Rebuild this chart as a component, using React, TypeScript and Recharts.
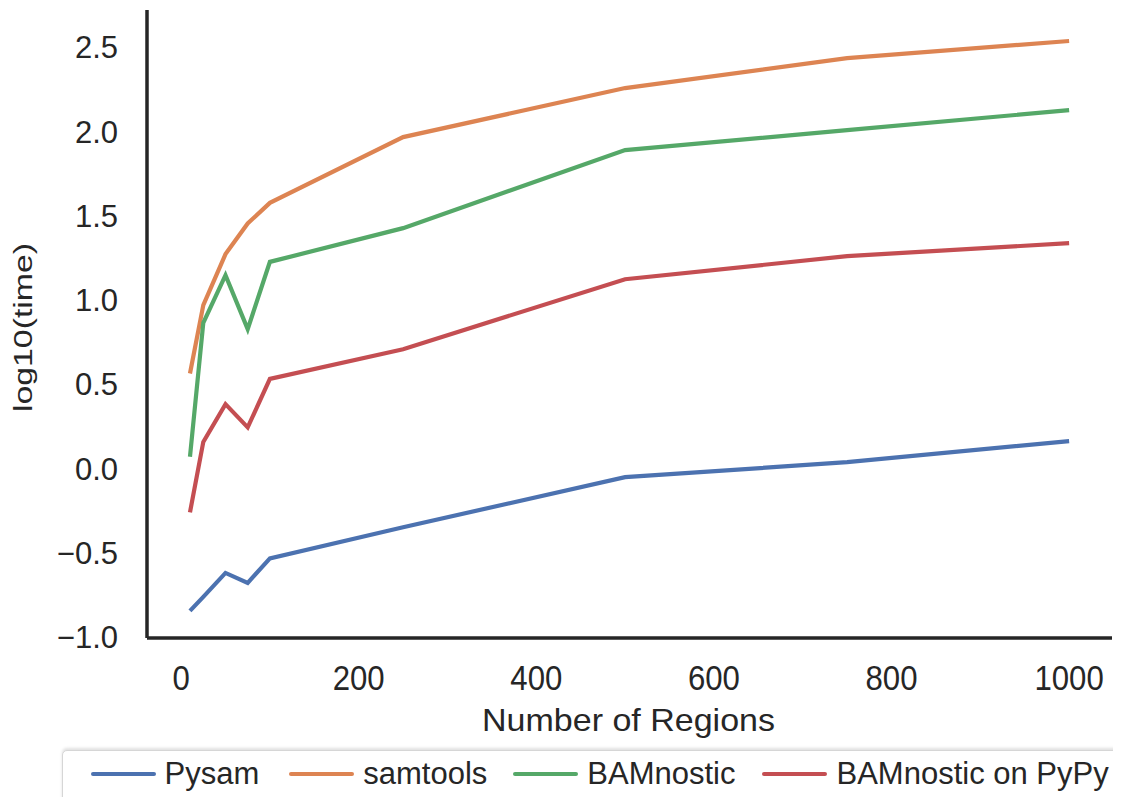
import React from "react";
import { LineChart, Line, XAxis, YAxis } from "recharts";

const regions = [10, 25, 50, 75, 100, 250, 500, 750, 1000];
const pysam = [-0.844, -0.761, -0.619, -0.678, -0.533, -0.348, -0.051, 0.038, 0.163];
const samtools = [0.564, 0.969, 1.272, 1.454, 1.576, 1.966, 2.257, 2.435, 2.536];
const bamnostic = [0.07, 0.864, 1.147, 0.827, 1.226, 1.426, 1.889, 2.007, 2.126];
const bamnosticPypy = [-0.26, 0.158, 0.382, 0.244, 0.532, 0.708, 1.123, 1.26, 1.337];

const xTicks = [0, 200, 400, 600, 800, 1000];
const yTicks = [-1.0, -0.5, 0.0, 0.5, 1.0, 1.5, 2.0, 2.5];

const seriesList = [
  { key: "pysam", name: "Pysam", values: pysam, color: "#4C72B0" },
  { key: "samtools", name: "samtools", values: samtools, color: "#DD8452" },
  { key: "bamnostic", name: "BAMnostic", values: bamnostic, color: "#55A868" },
  { key: "pypy", name: "BAMnostic on PyPy", values: bamnosticPypy, color: "#C44E52" },
];

const data = regions.map((r, i) => {
  const row: Record<string, number> = { regions: r };
  seriesList.forEach((s) => {
    row[s.key] = s.values[i];
  });
  return row;
});

const TEXT = "#262626";
const FONT = "'Liberation Sans', Arial, sans-serif";

const fmtY = (v: number) => v.toFixed(1).replace("-", "\u2212");

const XTick = (props: any) => {
  const { x, y, payload } = props;
  return (
    <text
      transform={`translate(${x},${y + 52}) scale(0.89,1)`}
      textAnchor="middle"
      fontSize={35}
      fontFamily={FONT}
      fill={TEXT}
    >
      {String(payload.value)}
    </text>
  );
};

const YTick = (props: any) => {
  const { x, y, payload } = props;
  return (
    <text
      x={x - 29}
      y={y}
      dy="0.36em"
      textAnchor="end"
      fontSize={31}
      fontFamily={FONT}
      fill={TEXT}
    >
      {fmtY(payload.value)}
    </text>
  );
};

const YLabel = () => (
  <text
    transform="translate(23.5,319.5) rotate(-90)"
    textAnchor="middle"
    fontSize={26}
    fontFamily={FONT}
    fill={TEXT}
    textLength={169}
    lengthAdjust="spacingAndGlyphs"
  >
    log10(time)
  </text>
);

const XLabel = () => (
  <text
    x={620.5}
    y={723}
    textAnchor="middle"
    fontSize={32}
    fontFamily={FONT}
    fill={TEXT}
    textLength={293}
    lengthAdjust="spacingAndGlyphs"
  >
    Number of Regions
  </text>
);

const legendGaps = [0, 30, 26, 27];

export default function App() {
  return (
    <div
      style={{
        position: "relative",
        width: 1113,
        height: 797,
        marginBottom: -8,
        overflow: "hidden",
        background: "#fff",
      }}
    >
      <LineChart
        width={1113}
        height={797}
        data={data}
        margin={{ top: 2, right: 9, bottom: 0, left: 0 }}
      >
        <XAxis
          dataKey="regions"
          type="number"
          domain={[-38.4, 1048.3]}
          allowDataOverflow
          ticks={xTicks}
          tickLine={false}
          tickSize={0}
          tickMargin={0}
          height={167}
          axisLine={{ stroke: TEXT, strokeWidth: 3.5 }}
          tick={<XTick />}
          label={<XLabel />}
          interval={0}
        />
        <YAxis
          type="number"
          domain={[-1.005, 2.72]}
          allowDataOverflow
          ticks={yTicks}
          tickLine={false}
          tickSize={0}
          tickMargin={0}
          width={139}
          axisLine={{ stroke: TEXT, strokeWidth: 3.5 }}
          tick={<YTick />}
          label={<YLabel />}
          interval={0}
        />
        {seriesList.map((s) => (
          <Line
            key={s.key}
            dataKey={s.key}
            name={s.name}
            stroke={s.color}
            strokeWidth={4.2}
            dot={false}
            activeDot={false}
            isAnimationActive={false}
            type="linear"
          />
        ))}
      </LineChart>
      <div
        style={{
          position: "absolute",
          left: 54,
          top: 742,
          width: 1080,
          height: 80,
          border: "1.5px solid #d6d6d6",
          borderRadius: 5,
          boxShadow: "0 -2px 3px rgba(0,0,0,0.12)",
          background: "#fff",
          boxSizing: "border-box",
          display: "flex",
          alignItems: "flex-start",
          paddingLeft: 27.5,
          paddingTop: 0.5,
          fontFamily: FONT,
          fontSize: 31,
          color: TEXT,
          whiteSpace: "nowrap",
        }}
      >
        {seriesList.map((s, i) => (
          <div
            key={s.key}
            style={{
              display: "flex",
              alignItems: "center",
              marginLeft: legendGaps[i],
              height: 44,
            }}
          >
            <div
              style={{
                width: 65,
                height: 4,
                background: s.color,
                borderRadius: 2,
                marginRight: 9,
              }}
            />
            <span>{s.name}</span>
          </div>
        ))}
      </div>
    </div>
  );
}
